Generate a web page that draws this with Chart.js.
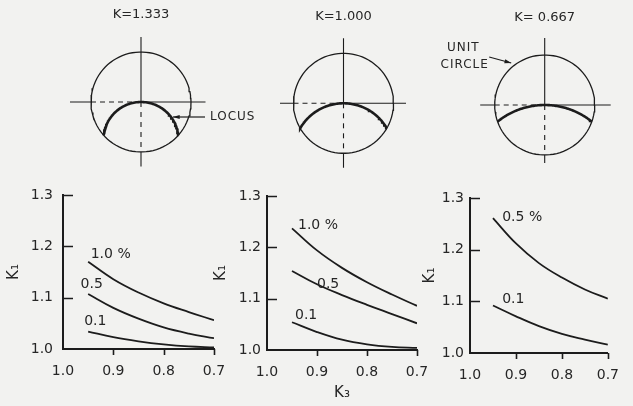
<!DOCTYPE html>
<html>
<head>
<meta charset="utf-8">
<script src="https://cdn.jsdelivr.net/npm/chart.js@4.4.0/dist/chart.umd.min.js"></script>
<style>
  body { margin: 0; background: #f2f2f0; }
  #wrap { position: relative; width: 633px; height: 406px; }
  #wrap canvas { position: absolute; left: 0; top: 0; }
</style>
</head>
<body>
<div id="wrap">
  <canvas id="circle1" width="633" height="406"></canvas>
  <canvas id="circle2" width="633" height="406"></canvas>
  <canvas id="circle3" width="633" height="406"></canvas>
  <canvas id="panel1" width="633" height="406"></canvas>
  <canvas id="panel2" width="633" height="406"></canvas>
  <canvas id="panel3" width="633" height="406"></canvas>
</div>
<script>
// --- data ---
const kValues = [1.333, 1.000, 0.667];
const kTitles = ['K=1.333', 'K=1.000', 'K= 0.667'];

const k3Values = [0.95, 0.90, 0.85, 0.80, 0.75, 0.70];
const k3Ticks = [1.0, 0.9, 0.8, 0.7];
const k1Ticks = [1.0, 1.1, 1.2, 1.3];

// K = 1.333
const p1Pct10 = [1.170, 1.136, 1.110, 1.089, 1.072, 1.056];
const p1Pct05 = [1.107, 1.080, 1.059, 1.042, 1.030, 1.021];
const p1Pct01 = [1.034, 1.023, 1.015, 1.009, 1.005, 1.003];
// K = 1.000
const p2Pct10 = [1.237, 1.194, 1.160, 1.132, 1.108, 1.086];
const p2Pct05 = [1.154, 1.128, 1.107, 1.088, 1.070, 1.052];
const p2Pct01 = [1.054, 1.035, 1.020, 1.011, 1.006, 1.004];
// K = 0.667
const p3Pct05 = [1.261, 1.212, 1.174, 1.146, 1.123, 1.105];
const p3Pct01 = [1.092, 1.071, 1.052, 1.037, 1.026, 1.016];

const INK = '#1c1c1c';
const TEXT = '#262626';
const FONT = '"DejaVu Sans", sans-serif';

// points along an arc, angles in degrees
function arcPoints(cx, cy, r, a0, a1) {
  const pts = [];
  const n = 90;
  for (let i = 0; i <= n; i++) {
    const a = (a0 + (a1 - a0) * i / n) * Math.PI / 180;
    pts.push({x: cx + r * Math.cos(a), y: cy + r * Math.sin(a)});
  }
  return pts;
}

function seg(x0, y0, x1, y1) {
  return [{x: x0, y: y0}, {x: x1, y: y1}];
}

// labels / arrows on the circle diagrams, in circle units
const circleNotes = [
  {texts: [{t: 'LOCUS', x: 1.38, y: -0.30, align: 'left'}], arrow: [1.28, -0.30, 0.64, -0.30],
   axes: {left: -1.42, right: 1.29, top: 1.30, bottom: -1.29}},
  {texts: [], arrow: null,
   axes: {left: -1.27, right: 1.25, top: 1.30, bottom: -1.29}},
  {texts: [{t: 'UNIT', x: -1.63, y: 1.14, align: 'center'}, {t: 'CIRCLE', x: -1.60, y: 0.80, align: 'center'}],
   arrow: [-1.11, 0.96, -0.67, 0.84],
   axes: {left: -1.29, right: 1.32, top: 1.34, bottom: -1.16}}
];
const circleCenters = [[141, 102], [343.5, 103.3], [544.7, 105]];

const circlePlugin = {
  id: 'circleMarks',
  afterDraw(chart, args, opts) {
    const {ctx, scales: {x, y}} = chart;
    ctx.save();
    ctx.fillStyle = TEXT;
    ctx.textBaseline = 'middle';
    ctx.font = '13px ' + FONT;
    ctx.textAlign = 'center';
    ctx.fillText(opts.title, x.getPixelForValue(0), y.getPixelForValue(1.74));
    ctx.font = '12px ' + FONT;
    if ('letterSpacing' in ctx) ctx.letterSpacing = '1px';
    opts.texts.forEach(n => {
      ctx.textAlign = n.align;
      ctx.fillText(n.t, x.getPixelForValue(n.x), y.getPixelForValue(n.y));
    });
    if (opts.arrow) {
      const [ax, ay, bx, by] = opts.arrow;
      const x0 = x.getPixelForValue(ax), y0 = y.getPixelForValue(ay);
      const x1 = x.getPixelForValue(bx), y1 = y.getPixelForValue(by);
      const ang = Math.atan2(y1 - y0, x1 - x0);
      ctx.strokeStyle = INK;
      ctx.lineWidth = 1.2;
      ctx.beginPath();
      ctx.moveTo(x0, y0);
      ctx.lineTo(x1, y1);
      ctx.stroke();
      ctx.fillStyle = INK;
      ctx.beginPath();
      ctx.moveTo(x1, y1);
      ctx.lineTo(x1 - 7 * Math.cos(ang - 0.3), y1 - 7 * Math.sin(ang - 0.3));
      ctx.lineTo(x1 - 7 * Math.cos(ang + 0.3), y1 - 7 * Math.sin(ang + 0.3));
      ctx.closePath();
      ctx.fill();
    }
    ctx.restore();
  }
};

function lineDs(data, width, dash) {
  return {data, showLine: true, pointRadius: 0, borderColor: INK,
          borderWidth: width, borderDash: dash || [], tension: 0};
}

kValues.forEach((k, i) => {
  const R = 1 / k;
  const half = Math.acos(1 - 1 / (2 * R * R)) * 180 / Math.PI;
  const ax = circleNotes[i].axes;
  const [cx, cy] = circleCenters[i];
  new Chart(document.getElementById('circle' + (i + 1)), {
    type: 'scatter',
    data: {
      datasets: [
        lineDs(arcPoints(0, 0, 1, 0, 360), 1.3),
        lineDs(seg(0, 0, 0, ax.top), 1.1),
        lineDs(seg(0, -1, 0, ax.bottom), 1.1),
        lineDs(seg(0, 0, 0, -1), 1.1, [5, 5]),
        lineDs(seg(ax.left, 0, -1, 0), 1.1),
        lineDs(seg(-1, 0, 0, 0), 1.1, [5, 4]),
        lineDs(seg(0, 0, ax.right, 0), 1.1),
        lineDs(arcPoints(0, -R, R, 90 - half, 90 + half), 2.6)
      ]
    },
    options: {
      responsive: false,
      animation: false,
      events: [],
      layout: {padding: {left: cx - 100, right: 633 - (cx + 87.5), top: cy - 100, bottom: 406 - (cy + 95)}},
      scales: {
        x: {type: 'linear', min: -2, max: 1.75, display: false},
        y: {type: 'linear', min: -1.9, max: 2, display: false}
      },
      plugins: {
        legend: {display: false},
        tooltip: {enabled: false},
        circleMarks: {title: kTitles[i], texts: circleNotes[i].texts, arrow: circleNotes[i].arrow}
      }
    },
    plugins: [circlePlugin]
  });
});

// --- lower panels ---
const panelPlugin = {
  id: 'panelMarks',
  afterDraw(chart, args, opts) {
    const {ctx, scales: {x, y}} = chart;
    ctx.save();
    ctx.strokeStyle = INK;
    ctx.lineWidth = 1.6;
    ctx.beginPath();
    k1Ticks.slice(1).forEach(v => {
      const py = Math.round(y.getPixelForValue(v)) + 0.5;
      ctx.moveTo(x.left, py);
      ctx.lineTo(x.left + 10, py);
    });
    k3Ticks.slice(1).forEach(v => {
      const px = Math.round(x.getPixelForValue(v)) + 0.5;
      ctx.moveTo(px, y.bottom);
      ctx.lineTo(px, y.bottom + 6);
    });
    ctx.stroke();
    ctx.fillStyle = TEXT;
    ctx.font = '14px ' + FONT;
    ctx.textBaseline = 'middle';
    ctx.textAlign = 'left';
    opts.labels.forEach(l => ctx.fillText(l.text, x.getPixelForValue(l.x), y.getPixelForValue(l.y)));
    ctx.restore();
  }
};

const panels = [
  {id: 'panel1', series: [p1Pct10, p1Pct05, p1Pct01],
   labels: [{text: '1.0 %', x: 0.945, y: 1.185}, {text: '0.5', x: 0.965, y: 1.125}, {text: '0.1', x: 0.958, y: 1.053}],
   box: {left: 63, right: 214, top: 195, bottom: 349, yW: 62, yPad: 10}, xTitle: ''},
  {id: 'panel2', series: [p2Pct10, p2Pct05, p2Pct01],
   labels: [{text: '1.0 %', x: 0.938, y: 1.242}, {text: '0.5', x: 0.900, y: 1.127}, {text: '0.1', x: 0.944, y: 1.067}],
   box: {left: 267, right: 417, top: 196, bottom: 350, yW: 59, yPad: 6}, xTitle: 'K₃'},
  {id: 'panel3', series: [p3Pct05, p3Pct01],
   labels: [{text: '0.5 %', x: 0.930, y: 1.262}, {text: '0.1', x: 0.930, y: 1.103}],
   box: {left: 470, right: 620, top: 198, bottom: 353, yW: 53, yPad: 6}, xTitle: ''}
];

panels.forEach(p => {
  const b = p.box;
  const xH = 406 - b.bottom;
  new Chart(document.getElementById(p.id), {
    type: 'line',
    data: {
      datasets: p.series.map(s => ({
        data: k3Values.map((v, i) => ({x: v, y: s[i]})),
        borderColor: INK,
        borderWidth: 1.8,
        pointRadius: 0,
        tension: 0.4
      }))
    },
    options: {
      responsive: false,
      animation: false,
      events: [],
      layout: {padding: {left: b.left - b.yW, right: 633 - b.right, top: b.top, bottom: 0}},
      scales: {
        x: {
          type: 'linear', reverse: true, min: 0.7, max: 1.0,
          afterBuildTicks: s => { s.ticks = k3Ticks.map(v => ({value: v})); },
          afterFit: s => { s.height = xH; },
          grid: {display: true, drawOnChartArea: false, drawTicks: false},
          border: {display: true, color: INK, width: 2},
          ticks: {autoSkip: false, maxRotation: 0, padding: 14, color: TEXT,
                  font: {family: FONT, size: 14}, callback: v => v.toFixed(1)},
          title: {display: p.xTitle !== '', text: p.xTitle, color: TEXT,
                  font: {family: FONT, size: 15}, padding: {top: 0, bottom: 4}}
        },
        y: {
          type: 'linear', min: 1.0, max: 1.3,
          afterBuildTicks: s => { s.ticks = k1Ticks.map(v => ({value: v})); },
          afterFit: s => { s.width = b.yW; },
          grid: {display: true, drawOnChartArea: false, drawTicks: false},
          border: {display: true, color: INK, width: 2},
          ticks: {padding: b.yPad, color: TEXT, font: {family: FONT, size: 14},
                  callback: v => v.toFixed(1)},
          title: {display: true, text: 'K₁', color: TEXT,
                  font: {family: FONT, size: 15}, padding: {top: 4, bottom: 0}}
        }
      },
      plugins: {
        legend: {display: false},
        tooltip: {enabled: false},
        panelMarks: {labels: p.labels}
      }
    },
    plugins: [panelPlugin]
  });
});
</script>
</body>
</html>
